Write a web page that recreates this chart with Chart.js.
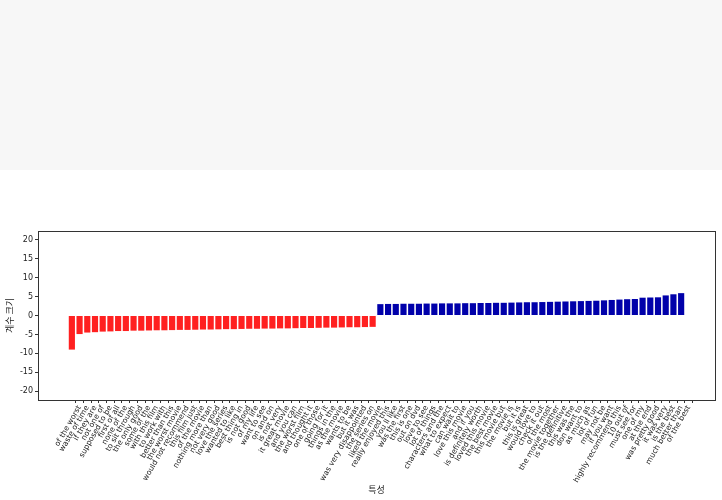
<!DOCTYPE html>
<html>
<head>
<meta charset="utf-8">
<script src="https://cdn.jsdelivr.net/npm/chart.js@4.4.0/dist/chart.umd.min.js"></script>
<style>
  html, body { margin: 0; padding: 0; background: #fff; }
  #wrap { position: relative; width: 722px; height: 500px; }
</style>
</head>
<body>
<div id="wrap"><canvas id="chart" width="722" height="500"></canvas></div>
<script>
// negative features (red), left to right
const negFeatures = [
  "of the worst", "waste of time", "if they are", "not one of", "supposed to be",
  "first of all", "none of the", "to sit through", "the only good", "some of the",
  "with this film", "to work with", "better than this", "the worst movie", "would not recommend",
  "this film just", "of the movie", "nothing more than", "not very good", "love the series",
  "wanted to like", "best thing in", "is not good", "of my life", "want to see",
  "on and on", "is not very", "it great movie", "and you can", "the worst film",
  "and thought it", "one of those", "going for it", "things in the", "as the movie",
  "wants to be", "but it was", "was very disappointed", "the series on", "liked the movie"
];
const negCoef = [
  -9.0, -4.9, -4.5, -4.4, -4.25, -4.2, -4.1, -4.1, -4.0, -4.0,
  -3.95, -3.9, -3.9, -3.85, -3.8, -3.8, -3.75, -3.7, -3.7, -3.65,
  -3.6, -3.6, -3.55, -3.5, -3.5, -3.45, -3.45, -3.4, -3.4, -3.35,
  -3.3, -3.3, -3.25, -3.2, -3.2, -3.15, -3.1, -3.1, -3.05, -3.0
];

// positive features (blue)
const posFeatures = [
  "really enjoyed this", "you ll like", "was the first", "this is one", "out on dvd",
  "love to see", "lot of things", "characters and the", "what to expect", "can wait to",
  "love this movie", "and if you", "is definitely worth", "loved this movie", "the best movie",
  "this movie but", "the movie is", "but it is", "this is great", "would love to",
  "check it out", "of the most", "the movie together", "is the definitive", "this was the",
  "don want to", "as much as", "lot of fun", "may not be", "if you want",
  "highly recommend this", "10 out of", "must see for", "one of my", "at the end",
  "was pretty good", "it was very", "is the best", "much better than", "of the best"
];
const posCoef = [
  3.0, 3.05, 3.05, 3.1, 3.1, 3.1, 3.15, 3.15, 3.2, 3.2,
  3.2, 3.25, 3.25, 3.3, 3.3, 3.35, 3.35, 3.4, 3.45, 3.5,
  3.5, 3.55, 3.6, 3.65, 3.7, 3.75, 3.8, 3.85, 3.9, 4.0,
  4.1, 4.2, 4.3, 4.35, 4.7, 4.75, 4.8, 5.3, 5.6, 5.9
];

const yTicks = [-20, -15, -10, -5, 0, 5, 10, 15, 20];
const yLabel = "계수 크기";
const xLabel = "특성";

const featureNames = negFeatures.concat(posFeatures);
const coefs = negCoef.concat(posCoef);
const RED = '#ff2020', BLUE = '#0000aa';

const points = coefs.map((v, i) => ({x: i, y: v}));
const colors = coefs.map(v => v < 0 ? RED : BLUE);

const bgPlugin = {
  id: 'bg',
  beforeDraw(chart) {
    const c = chart.ctx;
    c.save();
    c.fillStyle = '#ffffff';
    c.fillRect(0, 0, chart.width, chart.height);
    c.fillStyle = '#f7f7f7';
    c.fillRect(0, 0, chart.width, 170);
    c.restore();
  }
};

// axes frame + x title (drawn by hand)
const framePlugin = {
  id: 'frame',
  afterDraw(chart) {
    const a = chart.chartArea, c = chart.ctx;
    c.save();
    c.strokeStyle = '#333';
    c.lineWidth = 1;
    c.strokeRect(Math.round(a.left) + 0.5, Math.round(a.top) + 0.5,
                 Math.round(a.right - a.left), Math.round(a.bottom - a.top));
    c.fillStyle = '#222';
    c.font = '9px "Noto Sans CJK KR"';
    c.textAlign = 'center';
    c.textBaseline = 'middle';
    c.fillText(xLabel, (a.left + a.right) / 2, 490);
    c.restore();
  }
};

const tickFont = {family: 'DejaVu Sans', size: 7.6};
const titleFont = {family: 'Noto Sans CJK KR', size: 9};

new Chart(document.getElementById('chart').getContext('2d'), {
  type: 'bar',
  data: {
    datasets: [{
      data: points,
      backgroundColor: colors,
      borderWidth: 0,
      barPercentage: 0.8,
      categoryPercentage: 1.0
    }]
  },
  plugins: [bgPlugin, framePlugin],
  options: {
    responsive: false,
    animation: false,
    events: [],
    layout: {padding: {top: 231, right: 7, left: 4, bottom: 2}},
    plugins: {legend: {display: false}, tooltip: {enabled: false}},
    scales: {
      x: {
        type: 'linear',
        min: -4.39,
        max: 83.39,
        offset: false,
        afterBuildTicks: s => { s.ticks = featureNames.map((_, i) => ({value: i + 1})); },
        afterFit: s => { s.height = 98; },
        border: {display: false},
        grid: {drawOnChartArea: false, drawTicks: true, tickLength: 3, color: '#333'},
        ticks: {
          autoSkip: false,
          minRotation: 60,
          maxRotation: 60,
          padding: 1,
          color: '#222',
          font: tickFont,
          callback: v => featureNames[v - 1] || ''
        },
        title: {display: false}
      },
      y: {
        min: -22.3,
        max: 22.3,
        afterBuildTicks: s => { s.ticks = yTicks.map(v => ({value: v})); },
        afterFit: s => { s.width = 34; },
        border: {display: false},
        grid: {drawOnChartArea: false, drawTicks: true, tickLength: 3, color: '#333'},
        ticks: {color: '#222', font: {family: 'DejaVu Sans', size: 8}, padding: 2},
        title: {display: true, text: yLabel, color: '#222', font: titleFont, padding: {top: 0, bottom: 2}}
      }
    }
  }
});
</script>
</body>
</html>
